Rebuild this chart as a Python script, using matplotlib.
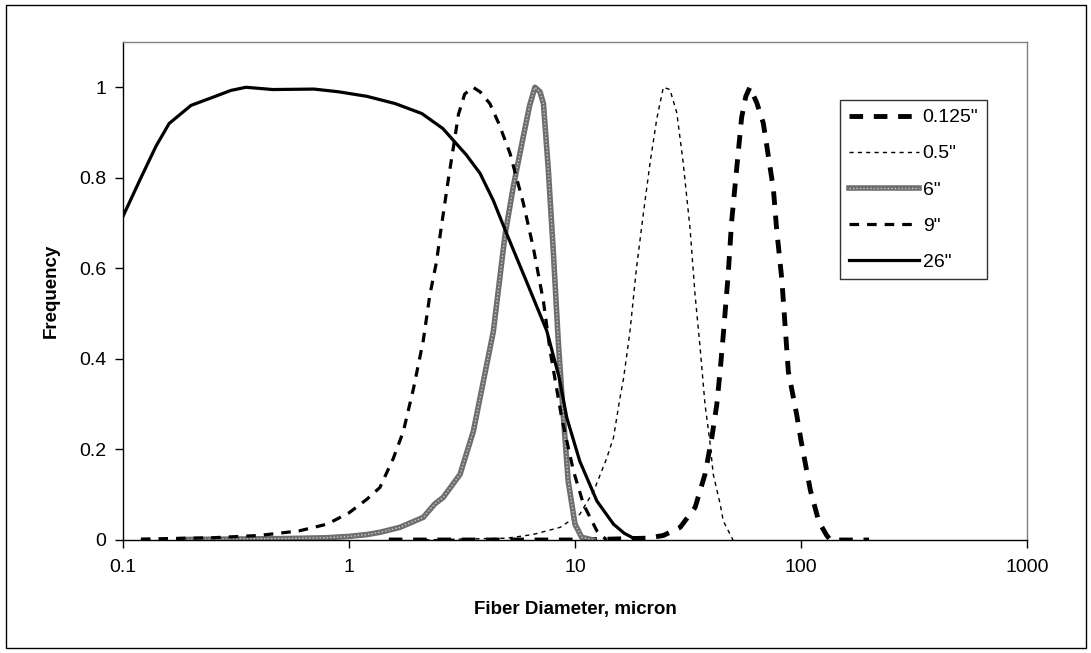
import matplotlib
matplotlib.use("Agg")
import matplotlib.pyplot as plt
from matplotlib.patches import Rectangle

plt.rcParams['font.family'] = ['Liberation Sans', 'DejaVu Sans']

# 0.125" series
x125 = [1.5, 10, 20.8, 24.6, 29.2, 34, 37.6, 40.3, 42.4, 43.9, 45.3, 47.6, 49.3, 51.9, 54.6, 57,
        59.4, 63.7, 68.1, 71.7, 75.5, 78, 82.2, 85, 87.9, 95.7, 100, 110, 120, 130, 135, 200]
y125 = [0.0, 0.0, 0.004, 0.01, 0.028, 0.072, 0.145, 0.226, 0.299, 0.375, 0.453, 0.585, 0.702, 0.819, 0.933, 0.98,
        1.0, 0.966, 0.921, 0.848, 0.775, 0.687, 0.577, 0.475, 0.372, 0.277, 0.22, 0.11, 0.04, 0.01, 0.0, 0.0]

# 0.5" series
x05 = [2.0, 5.0, 6.5, 8.6, 10.5, 12.1, 13.8, 14.8, 15.8, 16.4, 17.5, 18.7, 20.1, 21.5, 23, 24.6,
       26.3, 28.2, 30.1, 32.3, 34, 35.7, 37.6, 39.5, 40.9, 43.9, 45.3, 50]
y05 = [0.0, 0.004, 0.012, 0.028, 0.057, 0.108, 0.18, 0.226, 0.313, 0.357, 0.46, 0.6, 0.724, 0.834, 0.93, 1.0,
       0.995, 0.944, 0.834, 0.687, 0.54, 0.43, 0.3, 0.218, 0.145, 0.079, 0.042, 0.0]

# 6" series
x6 = [0.18, 0.3, 0.5, 0.8, 1.0, 1.2, 1.37, 1.68, 2.13, 2.4, 2.61, 3.1, 3.55, 3.93, 4.35, 4.9, 5.33,
      5.9, 6.3, 6.65, 7.0, 7.25, 7.62, 8.02, 8.43, 8.87, 9.33, 10, 10.7, 12]
y6 = [0.001, 0.002, 0.003, 0.005, 0.008, 0.012, 0.017, 0.028, 0.05, 0.08, 0.094, 0.145, 0.24, 0.35, 0.46, 0.673, 0.78,
      0.89, 0.96, 1.0, 0.99, 0.964, 0.818, 0.636, 0.44, 0.277, 0.13, 0.035, 0.006, 0.0]

# 9" series
x9 = [0.12, 0.25, 0.4, 0.6, 0.8, 1.0, 1.2, 1.37, 1.57, 1.74, 1.93, 2.13, 2.28, 2.44, 2.53, 2.75, 2.9,
      3.05, 3.25, 3.54, 3.8, 4.2, 4.6, 5.15, 5.9, 6.55, 7.25, 7.76, 8.73, 9.85, 10.9, 12.5, 13.8]
y9 = [0.002, 0.005, 0.01, 0.02, 0.035, 0.06, 0.09, 0.116, 0.18, 0.24, 0.335, 0.44, 0.542, 0.615, 0.673, 0.796, 0.869,
      0.94, 0.985, 1.0, 0.99, 0.964, 0.92, 0.855, 0.745, 0.644, 0.527, 0.418, 0.27, 0.152, 0.079, 0.02, 0.0]

# 26" series
x26 = [0.1, 0.12, 0.14, 0.16, 0.2, 0.25, 0.3, 0.35, 0.46, 0.7, 0.9, 1.2, 1.6, 2.1, 2.6, 3.3, 3.8,
       4.35, 5.0, 6.1, 7.5, 8.5, 9.2, 10.5, 12.5, 14.8, 16.5, 18, 20]
y26 = [0.715, 0.80, 0.87, 0.92, 0.96, 0.978, 0.993, 1.0, 0.995, 0.996, 0.99, 0.98, 0.964, 0.942, 0.909, 0.851, 0.81,
       0.75, 0.675, 0.571, 0.462, 0.36, 0.27, 0.174, 0.086, 0.035, 0.015, 0.005, 0.0]

labels = ['0.125"', '0.5"', '6"', '9"', '26"']
xticks = [0.1, 1, 10, 100, 1000]
xticklabels = ['0.1', '1', '10', '100', '1000']
yticks = [0, 0.2, 0.4, 0.6, 0.8, 1]
yticklabels = ['0', '0.2', '0.4', '0.6', '0.8', '1']

fig = plt.figure(figsize=(10.91, 6.53), dpi=100)
ax = fig.add_axes([123 / 1091, 1 - 540 / 653, (1027 - 123) / 1091, (540 - 42) / 653])

l125, = ax.plot(x125, y125, color='black', lw=3.5, dashes=(2.8, 2.2), solid_capstyle='butt')
l05, = ax.plot(x05, y05, color='black', lw=1.0, dashes=(3, 3))
l6a, = ax.plot(x6, y6, color='#6e6e6e', lw=4.0)
l6b, = ax.plot(x6, y6, color='#c8c8c8', lw=1.0, dashes=(1, 1.5))
l9, = ax.plot(x9, y9, color='black', lw=2.3, dashes=(3, 2.5))
l26, = ax.plot(x26, y26, color='black', lw=2.3)

ax.set_xscale('log')
ax.set_xlim(0.1, 1000)
ax.set_ylim(0, 1.1)
ax.set_xticks(xticks)
ax.set_xticklabels(xticklabels)
ax.set_yticks(yticks)
ax.set_yticklabels(yticklabels)
ax.minorticks_off()
ax.tick_params(axis='both', labelsize=14, direction='out', length=6, width=1, color='black')
ax.tick_params(axis='x', pad=8)
ax.tick_params(axis='y', pad=6)

for s in ['top', 'right']:
    ax.spines[s].set_color('#808080')
    ax.spines[s].set_linewidth(1)
for s in ['left', 'bottom']:
    ax.spines[s].set_color('black')
    ax.spines[s].set_linewidth(1)

ax.set_xlabel('Fiber Diameter, micron', fontsize=13.5, fontweight='bold', labelpad=18)
ax.set_ylabel('Frequency', fontsize=13.5, fontweight='bold', labelpad=14)

leg = ax.legend([l125, l05, (l6a, l6b), l9, l26], labels,
                loc='upper left', bbox_to_anchor=((840 - 123) / 904, 1 - (100 - 42) / 498),
                frameon=True, fancybox=False, edgecolor='black', fontsize=14,
                handlelength=3.6, handletextpad=0.2, labelspacing=0.95,
                borderpad=0.45, borderaxespad=0)
leg.get_frame().set_linewidth(1)

# outer chart border
fig.patches.append(Rectangle((6 / 1091, 5 / 653), 1080 / 1091, 643 / 653,
                             transform=fig.transFigure, fill=False, edgecolor='black', lw=1))

fig.savefig('out.png', dpi=100)
